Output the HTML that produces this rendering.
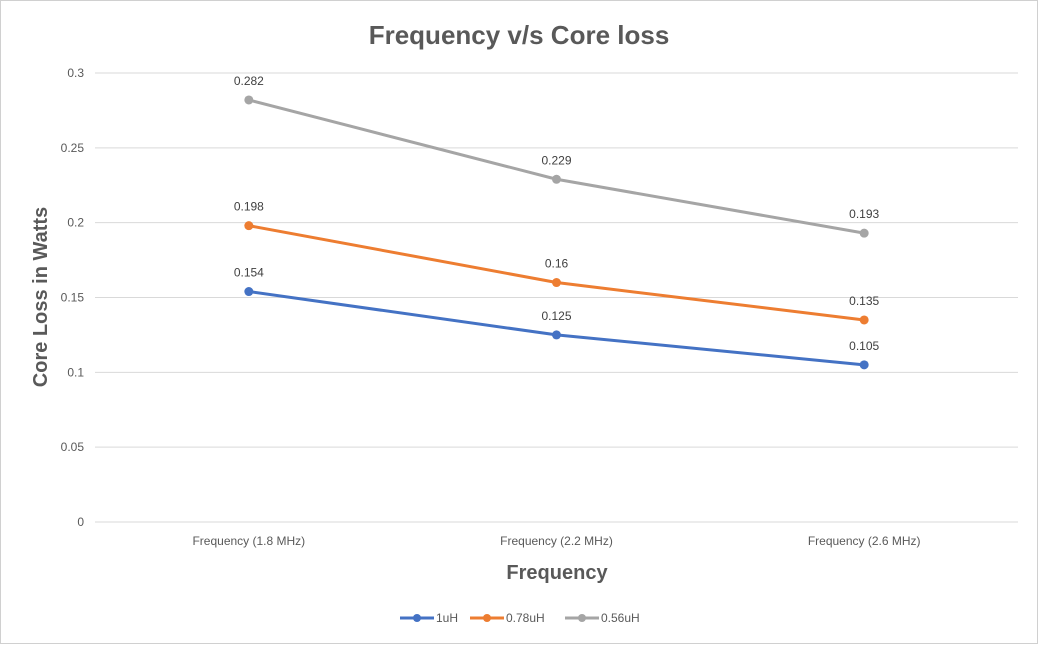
<!DOCTYPE html>
<html><head><meta charset="utf-8"><style>
body{margin:0;background:#fff;}
svg text{font-family:"Liberation Sans",sans-serif;}
</style></head><body>
<svg id="chart" width="1038" height="644" viewBox="0 0 1038 644">
<rect x="0.5" y="0.5" width="1037" height="643" fill="#fff" stroke="#d0d0d0"/>
<text x="519" y="44" text-anchor="middle" font-size="26" font-weight="bold" fill="#595959">Frequency v/s Core loss</text>
<text transform="translate(47,297) rotate(-90)" text-anchor="middle" font-size="20" font-weight="bold" fill="#595959">Core Loss in Watts</text>
<text x="557" y="579" text-anchor="middle" font-size="20" font-weight="bold" fill="#595959">Frequency</text>
<g id="grid"></g><g id="series"></g><g id="legend"></g>
</svg>
<script>
const categories=["Frequency (1.8 MHz)","Frequency (2.2 MHz)","Frequency (2.6 MHz)"];
const s1uH=[0.154,0.125,0.105];
const s078uH=[0.198,0.16,0.135];
const s056uH=[0.282,0.229,0.193];
const yTicks=[0,0.05,0.1,0.15,0.2,0.25,0.3];
const yTickLabels=["0","0.05","0.1","0.15","0.2","0.25","0.3"];
const seriesNames=["1uH","0.78uH","0.56uH"];
const NS="http://www.w3.org/2000/svg";
const left=95,right=1018,y0=522,yTop=73,ymax=0.3;
const yS=v=>y0-(v/ymax)*(y0-yTop);
const xS=i=>left+(right-left)/categories.length*(i+0.5);
function mk(t,a,p){const e=document.createElementNS(NS,t);for(const k in a)e.setAttribute(k,a[k]);p.appendChild(e);return e;}
const grid=document.getElementById('grid');
yTicks.forEach((v,i)=>{
 const l=mk('line',{x1:left,x2:right,y1:yS(v),y2:yS(v),stroke:'#d9d9d9','stroke-width':1},grid);
 
 
 const t=mk('text',{x:84,y:yS(v)+4,'text-anchor':'end','font-size':12,fill:'#595959'},grid);
 t.textContent=yTickLabels[i];
 
 
});
categories.forEach((c,i)=>{
 const t=mk('text',{x:xS(i),y:545,'text-anchor':'middle','font-size':12,fill:'#595959'},grid);
 t.textContent=c;
 
 
});
const data=[s1uH,s078uH,s056uH];
const colors=["#4472c4","#ed7d31","#a5a5a5"];
const sg=document.getElementById('series');
data.forEach((d,si)=>{
 const g=mk('g',{},sg);
 
 
 const pl=mk('polyline',{points:d.map((v,i)=>xS(i)+','+yS(v)).join(' '),fill:'none',stroke:colors[si],'stroke-width':3,'stroke-linejoin':'round'},g);
 
 
 d.forEach((v,i)=>{
  const c=mk('circle',{cx:xS(i),cy:yS(v),r:4.5,fill:colors[si]},g);
  
  
  const t=mk('text',{x:xS(i),y:yS(v)-15,'text-anchor':'middle','font-size':12,fill:'#404040'},g);
  t.textContent=String(v);
  
  
 });
});
const lg=document.getElementById('legend');
const lx=[400,470,565];
seriesNames.forEach((n,i)=>{
 const g=mk('g',{},lg);
 
 
 mk('line',{x1:lx[i],x2:lx[i]+34,y1:618,y2:618,stroke:colors[i],'stroke-width':3},g);
 mk('circle',{cx:lx[i]+17,cy:618,r:4,fill:colors[i]},g);
 const t=mk('text',{x:lx[i]+36,y:622,'font-size':12,fill:'#595959'},g);
 t.textContent=n;
});
</script>
</body></html>
